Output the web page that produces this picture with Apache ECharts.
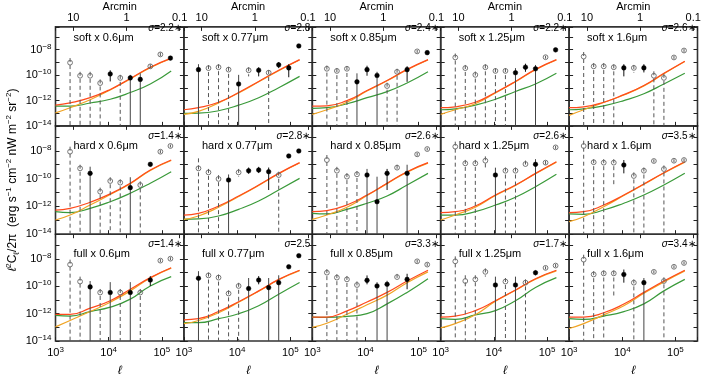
<!DOCTYPE html>
<html>
<head>
<meta charset="utf-8">
<script src="https://cdn.jsdelivr.net/npm/echarts@6/dist/echarts.min.js"></script>
<style>
html, body { margin: 0; padding: 0; background: #fff; }
#chart { width: 714px; height: 378px; }
</style>
</head>
<body>
<div id="chart"></div>
<script>
// multipole bins of the measured points
var ell = [1880, 2900, 4480, 6920, 10700, 16500, 25500, 39300, 60700, 93800, 145000];
var modelEll = [1000, 1880, 4480, 10700, 25500, 60700, 150000];

var bands = ['soft', 'hard', 'full'];
var waves = ['0.6', '0.77', '0.85', '1.25', '1.6'];

// sigma labels per panel [row][col], 1 = starred
var sigmaVal = [['2.2', '2.8', '2.4', '2.2', '2.6'], ['1.4', '2.8', '2.6', '2.6', '3.5'], ['1.4', '2.5', '3.3', '1.7', '3.4']];
var sigmaStar = [[1, 0, 1, 1, 1], [1, 1, 1, 1, 1], [1, 0, 1, 1, 1]];

// point kinds: o = open, dashed to floor / O = open, short bar / f = filled, bar to floor / F = filled, short bar
// all values below are log10( l^2 C_l / 2pi ), null low end = bar runs off the bottom
var softKind = ['ooooFoffOOF', 'fooofOFoFFF', 'ooofFfooFOF', 'oooooofFfOF', 'ooooFOFooOO'];
var softVal = [
  [-9.02, -10.05, -10.05, -10.63, -9.91, -10.22, -10.22, -10.34, -9.31, -8.37, -8.66],
  [-9.57, -9.45, -9.38, -9.57, -10.70, -9.62, -9.62, -9.81, -9.19, -9.43, -7.70],
  [-9.50, -9.67, -9.50, -10.53, -9.57, -10.03, -10.86, -9.74, -9.57, -8.13, -8.23],
  [-8.61, -9.45, -9.98, -9.38, -9.67, -9.67, -9.81, -9.38, -9.50, -8.59, -8.01],
  [-8.54, -9.31, -9.31, -9.38, -9.43, -9.43, -9.43, -10.05, -10.22, -8.61, -8.06]
];
var softHi = [
  [-8.66, -9.74, -9.74, -10.34, -9.62, -9.98, -9.98, -9.86, -9.15, -8.22, -8.55],
  [-9.14, -9.21, -9.14, -9.35, -9.98, -9.38, -9.38, -9.60, -8.97, -9.14, -7.60],
  [-9.25, -9.45, -9.28, -9.86, -9.26, -9.74, -10.60, -9.50, -9.30, -8.02, -8.12],
  [-8.30, -9.20, -9.72, -9.15, -9.45, -9.45, -9.45, -9.10, -9.20, -8.48, -7.90],
  [-8.18, -9.05, -9.05, -9.15, -9.14, -9.20, -9.14, -9.70, -9.90, -8.50, -7.95]
];
var softLo = [
  [null, null, null, null, -10.50, null, null, null, -9.45, -8.50, -8.78],
  [null, null, null, null, null, -10.10, -10.10, null, -9.45, -10.17, -7.80],
  [null, null, null, null, -10.05, null, null, null, -10.53, -8.25, -8.35],
  [null, null, null, null, null, null, null, -9.74, null, -8.70, -8.12],
  [null, null, null, null, -10.10, -9.80, -9.79, null, null, -8.72, -8.17]
];

var hardKind = ['oofooofoFOO', 'ooofOFFFoFF', 'ooooffFOfOO', 'oooOfooOfOO', 'oooOFooOoOO'];
var hardVal = [
  [-8.06, -9.26, -9.62, -10.94, -10.17, -10.29, -10.65, -10.46, -8.97, -8.06, -7.65],
  [-9.26, -9.55, -10.02, -10.10, -9.55, -9.43, -9.38, -9.50, -9.74, -8.37, -8.01],
  [-8.66, -9.43, -9.86, -9.69, -9.74, -11.66, -9.62, -9.21, -9.62, -8.25, -7.87],
  [-7.70, -8.90, -8.90, -8.71, -9.74, -9.43, -9.43, -8.95, -8.97, -8.85, -7.75],
  [-7.65, -8.82, -8.85, -8.85, -9.02, -9.81, -9.43, -8.73, -9.31, -8.71, -8.66]
];
var hardHi = [
  [-7.70, -9.00, -9.14, -10.65, -9.90, -10.05, -9.90, -10.20, -8.85, -7.95, -7.55],
  [-8.54, -9.30, -9.75, -9.70, -9.30, -9.20, -9.15, -9.20, -9.50, -8.27, -7.90],
  [-8.30, -9.15, -9.60, -9.45, -9.30, -9.86, -9.30, -9.00, -9.00, -8.14, -7.77],
  [-7.34, -8.65, -8.65, -8.40, -9.21, -9.20, -9.20, -8.70, -8.60, -8.72, -7.64],
  [-7.27, -8.60, -8.60, -8.60, -8.66, -9.55, -9.20, -8.62, -9.05, -8.60, -8.55]
];
var hardLo = [
  [null, null, null, null, null, null, null, null, -9.10, -8.17, -7.75],
  [null, null, null, null, -9.85, -9.65, -9.60, -10.82, null, -8.47, -8.11],
  [null, null, null, null, null, null, -10.82, -9.45, null, -8.36, -7.97],
  [null, null, null, -9.30, null, null, null, -9.20, null, -8.98, -7.86],
  [null, null, null, -10.40, -9.62, null, null, -8.84, null, -8.82, -8.77]
];

var fullKind = ['oofofofoFOO', 'foooofFffFF', 'ooooFffOFOO', 'oooOfofoFOO', 'oooOFofOoOO'];
var fullVal = [
  [-8.42, -9.66, -10.05, -10.46, -10.46, -10.46, -10.46, -10.46, -9.55, -8.13, -7.99],
  [-9.42, -9.21, -9.37, -10.53, -9.98, -10.17, -9.55, -10.10, -9.74, -8.58, -7.77],
  [-9.01, -9.37, -9.50, -9.91, -9.57, -9.98, -9.86, -9.33, -9.50, -8.18, -8.42],
  [-8.18, -9.62, -9.50, -8.95, -9.91, -9.66, -9.91, -9.74, -9.01, -8.66, -8.49],
  [-8.06, -9.14, -9.06, -9.06, -9.14, -9.74, -9.74, -8.95, -9.62, -8.58, -8.30]
];
var fullHi = [
  [-8.06, -9.30, -9.62, -10.20, -9.70, -10.20, -9.70, -10.20, -9.26, -8.02, -7.88],
  [-8.90, -9.00, -9.15, -10.30, -9.75, -9.40, -9.26, -9.40, -9.20, -8.47, -7.66],
  [-8.75, -9.12, -9.25, -9.65, -9.21, -9.70, -9.60, -9.10, -9.09, -8.07, -8.31],
  [-7.82, -9.20, -9.20, -8.70, -9.30, -9.40, -9.30, -9.50, -8.85, -8.55, -8.38],
  [-7.70, -8.90, -8.85, -8.85, -8.78, -9.50, -9.40, -8.84, -9.35, -8.47, -8.19]
];
var fullLo = [
  [null, null, null, null, null, null, null, null, -9.98, -8.24, -8.10],
  [null, null, null, null, null, null, -9.86, null, null, -8.69, -7.88],
  [null, null, null, null, -9.86, null, null, -9.60, -10.22, -8.29, -8.53],
  [null, null, null, -9.30, null, null, null, null, -9.20, -8.77, -8.60],
  [null, null, null, -10.81, -9.74, null, null, -9.06, null, -8.69, -8.41]
];

// model curves at modelEll, log10 units
var softRed = [
  [-12.37, -12.19, -11.78, -11.13, -10.27, -9.38, -8.66],
  [-12.73, -12.57, -12.14, -11.37, -10.50, -9.62, -8.78],
  [-12.45, -12.42, -12.01, -11.22, -10.42, -9.55, -8.78],
  [-12.57, -12.50, -12.14, -11.37, -10.50, -9.55, -8.78],
  [-12.57, -12.50, -12.14, -11.54, -10.82, -9.86, -8.90]
];
var softOrange = [
  [-12.98, -12.57, -11.94, -11.17, -10.30, -9.41, -8.69],
  [-13.09, -12.86, -12.19, -11.41, -10.53, -9.65, -8.81],
  [-13.09, -12.73, -12.14, -11.26, -10.45, -9.58, -8.81],
  [-13.09, -12.73, -12.26, -11.41, -10.53, -9.58, -8.81],
  [-13.17, -12.73, -12.16, -11.57, -10.85, -9.89, -8.93]
];
var softGreen = [
  [-12.45, -12.45, -12.20, -11.90, -11.37, -10.70, -9.67],
  [-13.02, -13.00, -12.81, -12.37, -11.78, -10.99, -10.10],
  [-12.62, -12.57, -12.26, -11.78, -11.30, -10.62, -9.74],
  [-12.73, -12.66, -12.37, -11.90, -11.29, -10.70, -9.86],
  [-12.73, -12.66, -12.42, -12.01, -11.47, -10.70, -9.86]
];
var hardRed = [
  [-12.26, -12.14, -11.70, -11.10, -10.33, -9.38, -8.66],
  [-12.62, -12.50, -11.97, -11.25, -10.46, -9.62, -8.85],
  [-12.38, -12.30, -11.90, -11.18, -10.33, -9.50, -8.85],
  [-12.45, -12.38, -11.97, -11.18, -10.46, -9.62, -8.78],
  [-12.45, -12.38, -11.90, -11.18, -10.38, -9.57, -8.78]
];
var hardOrange = [
  [-12.98, -12.62, -11.90, -11.14, -10.36, -9.41, -8.69],
  [-12.93, -12.69, -12.06, -11.29, -10.49, -9.65, -8.88],
  [-12.93, -12.62, -12.06, -11.22, -10.36, -9.53, -8.88],
  [-12.98, -12.62, -12.06, -11.22, -10.49, -9.65, -8.81],
  [-13.10, -12.74, -12.02, -11.22, -10.41, -9.60, -8.81]
];
var hardGreen = [
  [-12.38, -12.45, -12.14, -11.66, -11.05, -10.33, -9.50],
  [-12.93, -12.90, -12.69, -12.21, -11.61, -10.82, -9.98],
  [-12.50, -12.54, -12.21, -11.77, -11.25, -10.46, -9.62],
  [-12.62, -12.62, -12.38, -11.90, -11.34, -10.58, -9.69],
  [-12.54, -12.57, -12.26, -11.77, -11.18, -10.46, -9.62]
];
var fullRed = [
  [-12.05, -12.05, -11.60, -11.06, -10.22, -9.37, -8.65],
  [-12.45, -12.37, -11.85, -11.13, -10.34, -9.50, -8.83],
  [-12.25, -12.25, -11.80, -11.15, -10.45, -9.62, -8.83],
  [-12.25, -12.18, -11.78, -11.06, -10.27, -9.45, -8.83],
  [-12.25, -12.25, -11.94, -11.30, -10.45, -9.62, -8.83]
];
var fullOrange = [
  [-12.97, -12.50, -11.85, -11.17, -10.34, -9.40, -8.68],
  [-12.73, -12.50, -11.94, -11.17, -10.37, -9.53, -8.86],
  [-13.00, -12.70, -12.05, -11.35, -10.65, -9.74, -8.95],
  [-13.04, -12.73, -12.09, -11.10, -10.30, -9.48, -8.88],
  [-13.09, -12.73, -12.09, -11.42, -10.52, -9.68, -8.88]
];
var fullGreen = [
  [-12.13, -12.18, -11.85, -11.53, -10.94, -9.98, -9.30],
  [-12.66, -12.66, -12.37, -12.01, -11.42, -10.58, -9.73],
  [-12.25, -12.28, -12.20, -12.00, -11.29, -10.45, -9.45],
  [-12.37, -12.42, -12.09, -11.78, -11.06, -10.09, -9.37],
  [-12.37, -12.42, -12.18, -11.85, -11.29, -10.34, -9.50]
];

var kinds = [softKind, hardKind, fullKind];
var vals = [softVal, hardVal, fullVal];
var his = [softHi, hardHi, fullHi];
var los = [softLo, hardLo, fullLo];
var reds = [softRed, hardRed, fullRed];
var oranges = [softOrange, hardOrange, fullOrange];
var greens = [softGreen, hardGreen, fullGreen];

var Y_MIN = -14, Y_MAX = -6.2;
var L_MIN = 1000, L_MAX = 260000;
var ARC = 21600; // arcmin = 21600 / ell

var FONT = '"Liberation Sans", Arial, sans-serif';
var GL = 55.5, GT = 17.5, GW = 128.4, GH = 108.35;
var KIND_CODE = { o: 0, O: 1, f: 2, F: 3 };

function yLabel(v) {
  var e = Math.round(v);
  if (Math.abs(v - e) > 1e-6 || e % 2 !== 0) return '';
  return '{b|10}{s|' + (e < 0 ? '\u2212' + (-e) : e) + '}';
}
function xLabel(v) {
  var lg = Math.log(v) / Math.LN10, e = Math.round(lg);
  if (Math.abs(lg - e) > 1e-4) return '';
  return '{b|10}{s|' + e + '}';
}
function arcLabel(v) {
  var lg = Math.log(v) / Math.LN10, e = Math.round(lg);
  if (Math.abs(lg - e) > 1e-4) return '';
  return e === 1 ? '10' : e === 0 ? '1' : '0.1';
}
var supRich = {
  b: { fontSize: 11, fontFamily: FONT, color: '#000', lineHeight: 14 },
  s: { fontSize: 8, fontFamily: FONT, color: '#000', lineHeight: 8, verticalAlign: 'top' }
};
var tickStyle = { show: true, inside: true, length: 4, lineStyle: { color: '#222', width: 1 } };

// error bar + circle for one point
function renderPoint(params, api) {
  var kind = api.value(4);
  var open = kind < 2;
  var p = api.coord([api.value(0), api.value(1)]);
  var top = api.coord([api.value(0), api.value(2)]);
  var bot = api.coord([api.value(0), api.value(3)]);
  var floor = kind === 0 || kind === 2;
  return {
    type: 'group',
    children: [{
      type: 'line',
      shape: { x1: p[0], y1: top[1], x2: p[0], y2: bot[1] },
      style: {
        stroke: open ? '#555' : (floor ? '#444' : '#111'),
        lineWidth: 1,
        lineDash: open ? [4, 3] : null
      }
    }, {
      type: 'circle',
      shape: { cx: p[0], cy: p[1], r: open ? 2.4 : 2.3 },
      style: open ? { fill: 'rgba(0,0,0,0)', stroke: '#666', lineWidth: 0.9 }
                  : { fill: '#000', stroke: '#000', lineWidth: 0.5 }
    }]
  };
}

var grids = [], xAxes = [], yAxes = [], series = [], graphics = [];

for (var r = 0; r < 3; r++) {
  for (var c = 0; c < 5; c++) {
    var i = r * 5 + c;
    var gl = GL + c * GW, gt = GT + r * GH;
    grids.push({ left: gl, top: gt, width: GW, height: GH, show: true, borderColor: '#333', borderWidth: 1.6 });

    xAxes.push({
      type: 'log', gridIndex: i, position: 'bottom', min: L_MIN, max: L_MAX,
      axisLine: { show: false }, axisTick: tickStyle, splitLine: { show: false },
      axisLabel: { show: r === 2, formatter: xLabel, rich: supRich, margin: 5 },
      name: r === 2 ? '\u2113' : '', nameLocation: 'middle', nameGap: 24,
      nameTextStyle: { fontFamily: FONT, fontSize: 12, fontStyle: 'italic', color: '#000' }
    });
    xAxes.push({
      type: 'log', gridIndex: i, position: 'top', inverse: true, min: ARC / L_MAX, max: ARC / L_MIN,
      axisLine: { show: false }, axisTick: tickStyle, splitLine: { show: false },
      axisLabel: { show: r === 0, formatter: arcLabel, fontFamily: FONT, fontSize: 11, color: '#000', margin: 3 },
      name: r === 0 ? 'Arcmin' : '', nameLocation: 'middle', nameGap: 14,
      nameTextStyle: { fontFamily: FONT, fontSize: 11, color: '#000' }
    });
    yAxes.push({
      type: 'value', gridIndex: i, position: 'left', min: Y_MIN, max: Y_MAX, interval: 1,
      axisLine: { show: false }, axisTick: tickStyle, splitLine: { show: false },
      axisLabel: { show: c === 0, formatter: yLabel, rich: supRich, margin: 4 }
    });
    yAxes.push({
      type: 'value', gridIndex: i, position: 'right', min: Y_MIN, max: Y_MAX, interval: 1,
      axisLine: { show: false }, axisTick: tickStyle, splitLine: { show: false },
      axisLabel: { show: false }
    });

    var curves = [[greens, '#3a9a3a'], [oranges, '#f0a424'], [reds, '#ff4a1c']];
    curves.forEach(function (cv) {
      series.push({
        type: 'line', xAxisIndex: 2 * i, yAxisIndex: 2 * i, silent: true,
        showSymbol: false, smooth: 0.5,
        lineStyle: { color: cv[1], width: 1.2 },
        data: modelEll.map(function (l, j) { return [l, cv[0][r][c][j]]; })
      });
    });

    var kindStr = kinds[r][c];
    series.push({
      type: 'custom', xAxisIndex: 2 * i, yAxisIndex: 2 * i, silent: true, clip: true,
      encode: { x: 0, y: 1 }, renderItem: renderPoint, z: 5,
      data: ell.map(function (l, k) {
        var lo = los[r][c][k];
        return [l, vals[r][c][k], his[r][c][k], lo === null ? Y_MIN : lo, KIND_CODE[kindStr[k]]];
      })
    });

    graphics.push({
      type: 'text', x: gl + 18, y: gt + 20,
      style: { text: bands[r] + ' x ' + waves[c] + '\u03bcm', font: '11px ' + FONT, fill: '#000', verticalAlign: 'middle' }
    });
    graphics.push({
      type: 'text', x: gl + GW - 2, y: gt + 10.5,
      style: {
        text: '{i|\u03c3}{n|=' + sigmaVal[r][c] + (sigmaStar[r][c] ? '\u2217' : '') + '}',
        rich: {
          i: { fontStyle: 'italic', fontFamily: FONT, fontSize: 10, fill: '#000' },
          n: { fontFamily: FONT, fontSize: 10, fill: '#000' }
        },
        align: 'right', verticalAlign: 'middle'
      }
    });
  }
}

graphics.push({
  type: 'text', x: 13, y: GT + 1.5 * GH, rotation: Math.PI / 2,
  style: {
    text: '{i|\u2113}{sup|2}{b|C}{sub|\u2113}{b|/2\u03c0  (erg s}{sup|\u22121}{b| cm}{sup|\u22122}{b| nW m}{sup|\u22122}{b| sr}{sup|\u22122}{b|)}',
    rich: {
      b: { fontFamily: FONT, fontSize: 12, lineHeight: 16, fill: '#000' },
      i: { fontFamily: FONT, fontSize: 12, lineHeight: 16, fontStyle: 'italic', fill: '#000' },
      sup: { fontFamily: FONT, fontSize: 8, lineHeight: 9, verticalAlign: 'top', fill: '#000' },
      sub: { fontFamily: FONT, fontSize: 8, lineHeight: 9, verticalAlign: 'bottom', fill: '#000' }
    },
    align: 'center', verticalAlign: 'middle'
  }
});

var chart = echarts.init(document.getElementById('chart'));
chart.setOption({
  animation: false,
  backgroundColor: '#fff',
  grid: grids,
  xAxis: xAxes,
  yAxis: yAxes,
  series: series,
  graphic: graphics
});
</script>
</body>
</html>
